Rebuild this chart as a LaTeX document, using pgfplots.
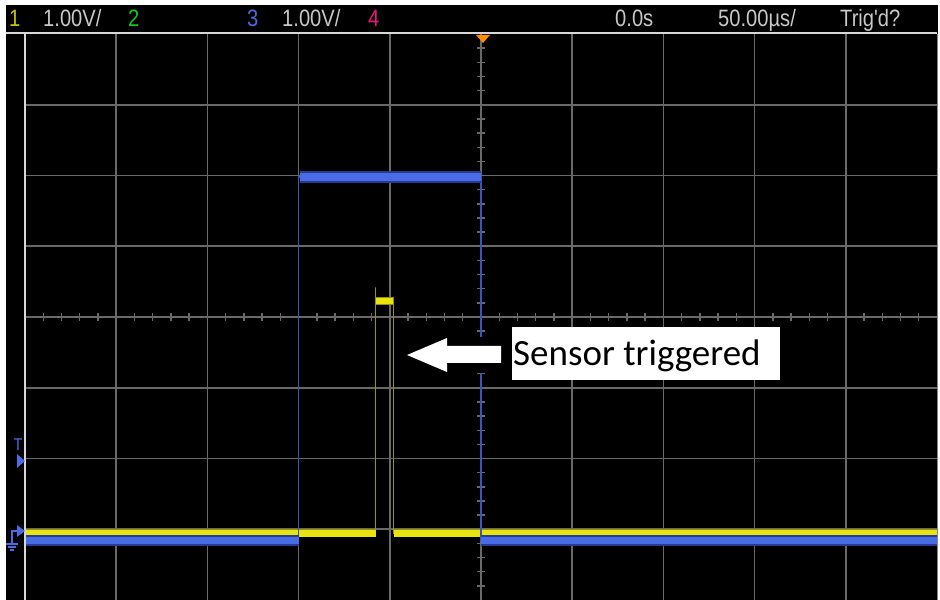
\documentclass[border=0pt]{standalone}
\usepackage{pgfplots}
\pgfplotsset{compat=1.18}
\usepackage{fontspec}
\setmainfont{Liberation Sans}
\newfontfamily\scopefont{Liberation Sans}[FakeStretch=0.85]
\newfontfamily\labelfont{Carlito}

\definecolor{grat}{RGB}{105,105,105}
\definecolor{framec}{RGB}{215,215,215}
\definecolor{scopetext}{RGB}{200,200,200}
\definecolor{chone}{RGB}{232,228,16}
\definecolor{chonedark}{RGB}{150,145,0}
\definecolor{chthree}{RGB}{72,108,228}
\definecolor{chthreedark}{RGB}{40,58,150}
\definecolor{chtwo}{RGB}{20,200,20}
\definecolor{chfour}{RGB}{235,20,125}
\definecolor{trigorange}{RGB}{255,140,0}

\begin{document}
\begin{tikzpicture}
% screen background
\begin{scope}[x=1bp,y=1bp]
\fill[white] (0,0) rectangle (940,600);
\fill[black] (6,0) rectangle (938,595);
\end{scope}

% graticule: 10 div x 50 us, 8 div x 1 V
\begin{axis}[
  at={(25bp,0bp)}, anchor=south west,
  scale only axis, width=912bp, height=566bp,
  xmin=-250, xmax=250, ymin=-4, ymax=4,
  xtick={-200,-150,...,200}, ytick={-3,...,3},
  xticklabels={}, yticklabels={},
  major tick length=0pt,
  grid=major,
  major grid style={draw=grat, line width=1.6bp},
  axis line style={draw=none},
  clip=true,
]
% minor ticks on the centre lines
\pgfplotsinvokeforeach{-240,-230,...,240}{
  \draw[grat, line width=1.4bp] (axis cs:#1,-0.055) -- (axis cs:#1,0.055);}
\pgfplotsinvokeforeach{-3.8,-3.6,...,3.8}{
  \draw[grat, line width=1.4bp] (axis cs:-2.1,#1) -- (axis cs:2.1,#1);}

% channel 1 (yellow, sensor)
\addplot[chone!65!black, line width=1.1bp] coordinates {
  (-250,-3.06) (-57.8,-3.06) (-57.8,0.42) (-57.8,0.226)
  (-47.9,0.226) (-47.9,-3.06) (250,-3.06)};
\addplot[chonedark, line width=8bp] coordinates {(-250,-3.06) (-57.8,-3.06)};
\addplot[chonedark, line width=8bp] coordinates {(-57.8,0.226) (-47.9,0.226)};
\addplot[chonedark, line width=8bp] coordinates {(-47.9,-3.06) (250,-3.06)};
\addplot[chone, line width=6.5bp] coordinates {(-250,-3.06) (-57.8,-3.06)};
\addplot[chone, line width=6.5bp] coordinates {(-57.6,0.226) (-48.1,0.226)};
\addplot[chone, line width=6.5bp] coordinates {(-47.9,-3.06) (250,-3.06)};

% channel 3 (blue)
\addplot[chthree!80!black, line width=1.3bp] coordinates {
  (-250,-3.16) (-100,-3.16) (-100,1.98) (0,1.98) (0,-3.16) (250,-3.16)};
\addplot[chthreedark, line width=11bp] coordinates {(-250,-3.16) (-100,-3.16)};
\addplot[chthreedark, line width=12bp] coordinates {(-99.5,1.98) (0,1.98)};
\addplot[chthreedark, line width=11bp] coordinates {(0,-3.16) (250,-3.16)};
\addplot[chthree, line width=7.5bp] coordinates {(-250,-3.16) (-100,-3.16)};
\addplot[chthree, line width=8.5bp] coordinates {(-99.5,1.98) (0,1.98)};
\addplot[chthree, line width=7.5bp] coordinates {(0,-3.16) (250,-3.16)};
\end{axis}

\begin{scope}[x=1bp,y=1bp]
% frame lines
\draw[framec, line width=2bp] (6,566.5) -- (937,566.5);
\draw[framec, line width=2bp] (25,0) -- (25,566);
\draw[grat!80!white, line width=1.5bp] (937.5,0) -- (937.5,566);

% trigger position marker
\fill[trigorange] (476,565) -- (490,565) -- (483,557) -- cycle;

% left channel markers
\node[chthree, inner sep=0, anchor=base, font=\scopefont\fontsize{17bp}{17bp}\selectfont] at (18,150) {T};
\fill[chthree] (17,146) -- (25,139) -- (17,132) -- cycle;
\fill[chthree] (17,75) -- (25,69) -- (17,63) -- cycle;
\draw[chthree, line width=1.2bp] (17,69) -- (12,69) -- (12,56);
\draw[chthree, line width=1.2bp] (6,56) -- (18,56) (8,53) -- (16,53) (10,50) -- (14,50);

% top status bar
\begin{scope}[every node/.style={inner sep=0, anchor=base west,
    font=\scopefont\fontsize{23.7bp}{24bp}\selectfont}]
\node[text=chone!85!black] at (9,573) {1};
\node[text=scopetext] at (43,573) {1.00V/};
\node[text=chtwo] at (128,573) {2};
\node[text=chthree] at (247,573) {3};
\node[text=scopetext] at (282,573) {1.00V/};
\node[text=chfour] at (368,573) {4};
\node[text=scopetext] at (615,573) {0.0s};
\node[text=scopetext] at (718,573) {50.00µs/};
\node[text=scopetext] at (840,573) {Trig'd?};
\end{scope}

% annotation
\fill[black] (400,263) rectangle (506,227);
\fill[white] (407,245) -- (447,262) -- (447,254) -- (501,254) -- (501,237)
  -- (447,237) -- (447,228) -- cycle;
\fill[white] (512,273) rectangle (780,220);
\node[inner sep=0, anchor=base west, text=black,
  font=\labelfont\fontsize{37bp}{40bp}\selectfont] at (513,235) {Sensor triggered};
\end{scope}

\pgfresetboundingbox
\useasboundingbox (0,0) rectangle (940bp,600bp);
\end{tikzpicture}
\end{document}
